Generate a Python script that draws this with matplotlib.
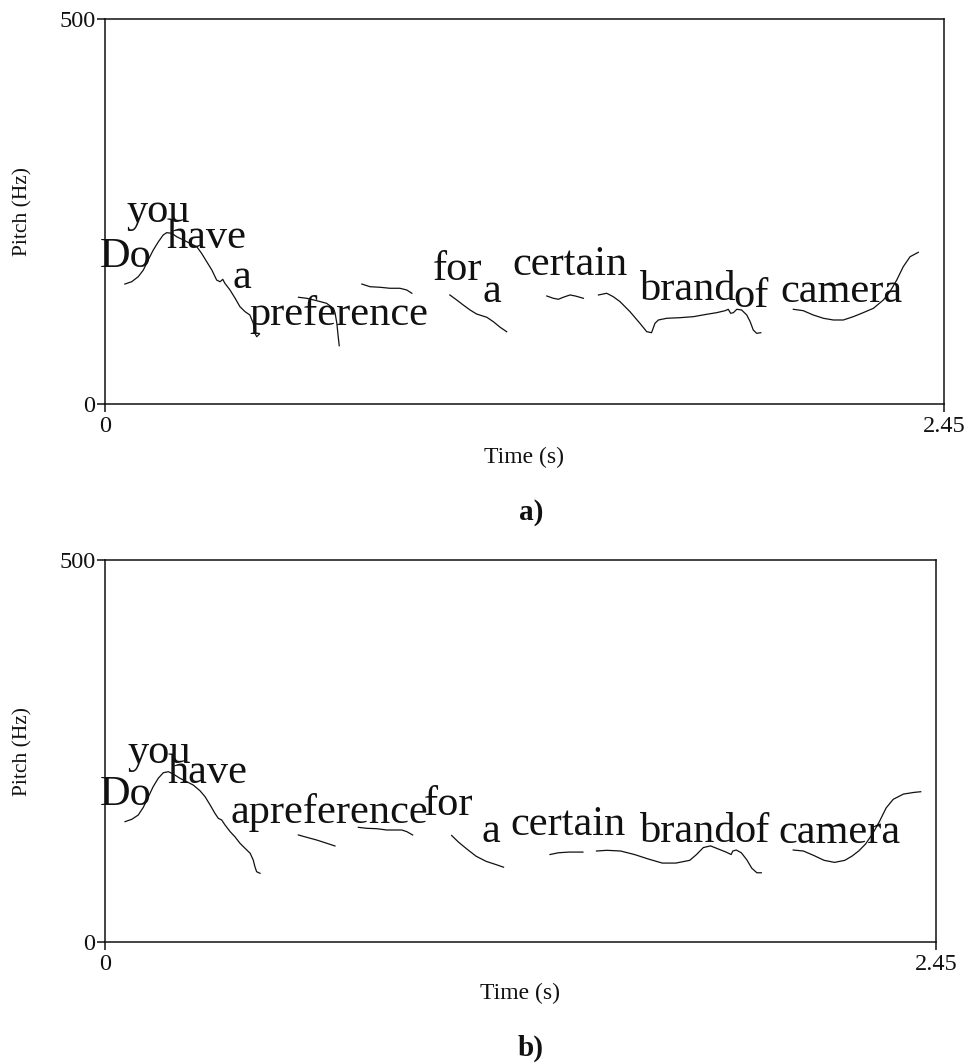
import matplotlib
matplotlib.use("Agg")
import matplotlib.pyplot as plt

plt.rcParams['font.family'] = ['Liberation Serif', 'DejaVu Serif']

T_MAX = 2.45
F_MAX = 500

# ---- panel a) pitch contour pieces: (time s, pitch Hz)
a_t = [
    [0.058, 0.078, 0.097, 0.112, 0.126, 0.141, 0.156, 0.170, 0.180, 0.195, 0.209,
     0.229, 0.248, 0.268, 0.282, 0.297, 0.312, 0.326, 0.336, 0.344, 0.350, 0.365,
     0.380, 0.394, 0.409, 0.423, 0.433, 0.438, 0.443, 0.451],
    [0.565, 0.589, 0.618, 0.647, 0.667, 0.672, 0.677, 0.681, 0.684],
    [0.750, 0.774, 0.803, 0.832, 0.861, 0.881, 0.896],
    [1.007, 1.027, 1.046, 1.066, 1.085, 1.115, 1.134, 1.154, 1.173],
    [1.290, 1.309, 1.324, 1.338, 1.358, 1.373, 1.397],
    [1.441, 1.465, 1.484, 1.504, 1.533, 1.562, 1.582, 1.596, 1.606, 1.616, 1.640,
     1.679, 1.718, 1.757, 1.786, 1.811, 1.820, 1.827, 1.835, 1.845, 1.859, 1.874,
     1.884, 1.893, 1.903, 1.915],
    [2.010, 2.039, 2.068, 2.098, 2.127, 2.156, 2.185, 2.214, 2.244, 2.273, 2.292,
     2.312, 2.331, 2.351, 2.375],
]
a_f = [
    [155.8, 158.8, 165.3, 174.0, 187.0, 200.0, 210.8, 219.5, 222.5, 221.7, 217.3,
     213.0, 208.7, 204.3, 195.7, 184.8, 174.0, 161.0, 158.8, 161.9, 156.8, 148.1,
     137.3, 126.4, 119.9, 115.6, 104.8, 91.8, 87.4, 90.9],
    [138.6, 137.3, 134.2, 130.8, 124.3, 117.8, 104.8, 87.4, 75.7],
    [155.8, 152.3, 151.6, 150.3, 150.3, 148.1, 143.8],
    [141.6, 135.1, 128.6, 122.1, 116.9, 112.6, 106.9, 99.6, 93.9],
    [140.3, 137.3, 136.0, 138.6, 141.6, 140.3, 137.3],
    [141.6, 143.8, 139.4, 132.9, 119.9, 104.8, 93.9, 92.6, 104.8, 109.1, 111.3,
     112.1, 113.4, 116.5, 118.6, 121.2, 123.0, 117.8, 118.6, 123.0, 122.1, 115.6,
     106.9, 96.1, 91.8, 92.6],
    [123.0, 121.2, 115.6, 111.3, 109.1, 109.1, 113.4, 118.6, 124.3, 135.1, 145.8,
     161.0, 178.3, 191.3, 197.0],
]
a_words = ['Do', 'you', 'have', 'a', 'preference', 'for', 'a', 'certain', 'brand', 'of', 'camera']
a_word_t = [-0.015, 0.064, 0.181, 0.371, 0.423, 0.958, 1.101, 1.189, 1.562, 1.835, 1.971]
a_word_f = [177.9, 236.4, 202.6, 150.6, 102.6, 161.0, 132.5, 167.5, 135.1, 126.0, 132.5]

# ---- panel b)
b_t = [
    [0.059, 0.079, 0.098, 0.113, 0.128, 0.142, 0.157, 0.172, 0.187, 0.201, 0.221,
     0.241, 0.260, 0.280, 0.295, 0.310, 0.324, 0.334, 0.344, 0.354, 0.369, 0.383,
     0.398, 0.413, 0.428, 0.437, 0.442, 0.447, 0.457],
    [0.570, 0.595, 0.624, 0.654, 0.678],
    [0.747, 0.772, 0.801, 0.831, 0.875, 0.890, 0.907],
    [1.022, 1.043, 1.068, 1.094, 1.124, 1.155, 1.175],
    [1.312, 1.337, 1.368, 1.409],
    [1.449, 1.480, 1.520, 1.561, 1.602, 1.643, 1.683, 1.724, 1.744, 1.764, 1.785,
     1.805, 1.831, 1.846, 1.851, 1.861, 1.876, 1.892, 1.907, 1.922, 1.935],
    [2.029, 2.059, 2.090, 2.120, 2.151, 2.181, 2.202, 2.222, 2.242, 2.263, 2.283,
     2.303, 2.324, 2.354, 2.385, 2.405],
]
b_f = [
    [157.5, 160.6, 166.2, 176.3, 190.2, 203.3, 214.3, 221.6, 222.9, 219.9, 214.3,
     209.8, 205.5, 198.0, 190.2, 179.3, 168.5, 161.9, 159.7, 153.1, 144.4, 137.8,
     129.2, 122.6, 116.1, 107.3, 98.6, 92.0, 89.9],
    [140.1, 137.0, 133.5, 129.2, 125.7],
    [150.1, 148.8, 148.3, 146.6, 146.6, 144.4, 140.1],
    [139.4, 130.4, 121.3, 112.3, 105.5, 101.0, 97.9],
    [114.5, 116.8, 117.7, 117.7],
    [119.1, 120.0, 119.1, 114.5, 108.6, 103.3, 103.3, 106.9, 114.5, 123.6, 125.8,
     122.3, 117.7, 114.5, 119.1, 120.4, 116.8, 107.7, 96.5, 90.6, 90.6],
    [120.4, 119.1, 113.2, 106.9, 104.2, 106.9, 112.3, 119.1, 128.1, 141.6, 157.5,
     175.5, 186.8, 193.6, 195.8, 196.7],
]
b_words = ['Do', 'you', 'have', 'apreference', 'for', 'a', 'certain', 'brand', 'of', 'camera']
b_word_t = [-0.015, 0.065, 0.183, 0.369, 0.940, 1.109, 1.194, 1.577, 1.855, 1.985]
b_word_f = [179.3, 234.3, 208.1, 155.8, 166.2, 130.9, 139.4, 130.4, 130.9, 129.6]

INK = '#111111'


def draw_panel(ax, seg_t, seg_f, words, wt, wf, ylab_x, xlab_y):
    for t, f in zip(seg_t, seg_f):
        ax.plot(t, f, color=INK, lw=0.9)
    for w, x, y in zip(words, wt, wf):
        ax.text(x, y, w, fontsize=30.5, color=INK, ha='left', va='baseline')
    ax.set_xlim(0, T_MAX)
    ax.set_ylim(0, F_MAX)
    ax.set_xticks([0, T_MAX])
    ax.set_xticklabels(['0', '2.45'])
    ax.set_yticks([0, F_MAX])
    ax.set_yticklabels(['0', '500'])
    ax.tick_params(axis='x', direction='out', length=6, width=1.1, labelsize=17.5,
                   pad=3, colors=INK)
    ax.tick_params(axis='y', direction='out', length=6, width=1.1, labelsize=17.5,
                   pad=1, colors=INK)
    for s in ax.spines.values():
        s.set_linewidth(1.1)
        s.set_color(INK)
    ax.set_xlabel('Time (s)', fontsize=17, color=INK)
    ax.set_ylabel('Pitch (Hz)', fontsize=15.5, color=INK)
    ax.xaxis.set_label_coords(0.5, xlab_y)
    ax.yaxis.set_label_coords(ylab_x, 0.5)


fig = plt.figure(figsize=(9.66, 10.63), dpi=100)

ax1 = fig.add_axes([105 / 966, 1 - 404 / 1063, 839 / 966, 385 / 1063])
draw_panel(ax1, a_t, a_f, a_words, a_word_t, a_word_f, -0.086, -0.111)

ax2 = fig.add_axes([105 / 966, 1 - 942 / 1063, 831 / 966, 382 / 1063])
draw_panel(ax2, b_t, b_f, b_words, b_word_t, b_word_f, -0.087, -0.108)

fig.text(531 / 966, 1 - 513 / 1063, 'a)', fontsize=21, fontweight='bold',
         ha='center', va='center', color=INK)
fig.text(531 / 966, 1 - 1048 / 1063, 'b)', fontsize=21, fontweight='bold',
         ha='center', va='center', color=INK)

fig.savefig('out.png', dpi=100)
